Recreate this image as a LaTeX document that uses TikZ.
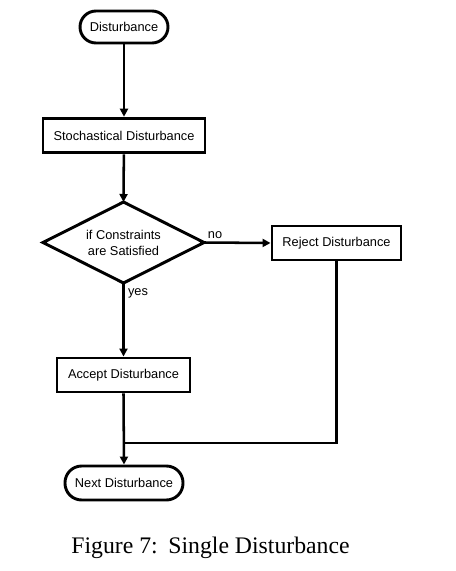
\documentclass[tikz,border=0pt]{standalone}
\usepackage{fontspec}
\setmainfont{Liberation Serif}
\newfontfamily\boxfont{Liberation Sans}
\usetikzlibrary{arrows.meta}
\tikzset{
  every node/.style={font=\boxfont\fontsize{9.6}{11.5}\selectfont, inner sep=0pt},
  boxa/.style={draw, line width=2.2pt, rectangle, minimum height=25.5pt, align=center},
  term/.style={draw, line width=2.2pt, rectangle, rounded corners=12.5pt, minimum height=25.5pt},
  decpath/.style={draw, line width=2.2pt, line join=miter},
  conn/.style={line width=1.9pt, -{Triangle[length=6pt,width=6pt]}},
  plain/.style={line width=1.9pt},
  lbl/.style={font=\boxfont\fontsize{9.6}{11.5}\selectfont}
}
\begin{document}
\begin{tikzpicture}[x=0.75pt,y=-0.75pt]
\useasboundingbox (0,0) rectangle (456,571);
\node[term, minimum width=66pt, minimum height=24pt, rounded corners=12pt] (dist) at (124,27) {Disturbance};
\node[boxa, minimum width=121.5pt, minimum height=26pt] (stoch) at (124,135.5) {Stochastical Disturbance};
\coordinate (ctop) at (123.5,202);
\coordinate (cright) at (204,242.5);
\coordinate (cbot) at (123.5,283);
\coordinate (cleft) at (43,242.5);
\draw[decpath] (ctop) -- (cright) -- (cbot) -- (cleft) -- cycle;
\node[align=center] (cond) at (123.5,243) {if Constraints\\are Satisfied};
\node[boxa, minimum width=96.75pt] (rej) at (336.5,243) {Reject Disturbance};
\node[boxa, minimum width=99.75pt] (acc) at (123.5,375) {Accept Disturbance};
\node[term, minimum width=88.5pt] (next) at (124,483) {Next Disturbance};
\coordinate (merge) at (123.5,443);
\node[lbl] (no) at (215,235) {no};
\node[lbl] (yes) at (138,293.5) {yes};
\node[font=\fontsize{17.8}{20}\selectfont] (cap) at (210.5,548) {Figure 7:\hspace{0.45em}Single Disturbance};
\draw[conn] (dist) -- (stoch);
\draw[conn] (stoch) -- (ctop);
\draw[conn] (cright) -- (rej.west);
\draw[conn] (cbot) -- (acc.north);
\draw[conn] (acc.south) -- (next.north);
\draw[plain] (rej.south) |- (merge);
\end{tikzpicture}
\end{document}
